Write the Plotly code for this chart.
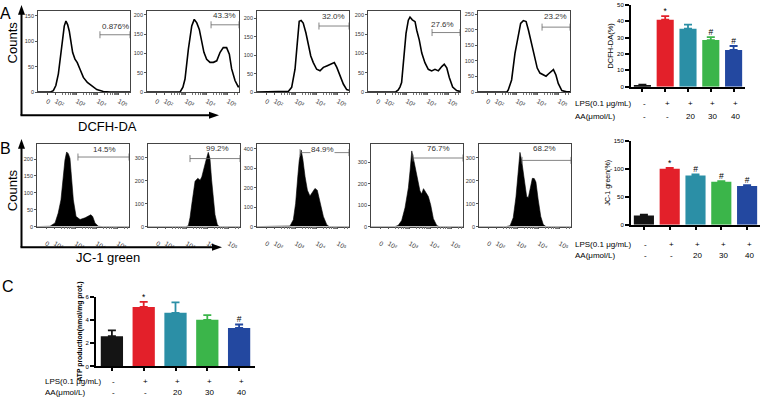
import numpy as np
import plotly.graph_objects as go

W, H = 763, 400
def fx(px): return px / W
def fy(py): return 1 - py / H

# ---------------- DATA ----------------
# Flow cytometry histograms (x: log10 display units, y: counts)
a1_x = [1.15, 1.72, 1.88, 2.0, 2.12, 2.23, 2.33, 2.4, 2.48, 2.56, 2.64, 2.72, 2.8, 2.91, 3.02, 3.15, 3.31, 3.5, 3.71, 3.95, 4.26, 4.58, 5.53]
a1_y = [0, 0, 3, 13, 36, 78, 110, 130, 140, 133, 120, 97, 78, 65, 58, 45, 29, 19, 12, 5, 1.4, 0, 0]
a2_x = [1.15, 2.72, 2.86, 2.96, 3.12, 3.28, 3.40, 3.52, 3.64, 3.75, 3.86, 3.99, 4.15, 4.31, 4.47, 4.63, 4.78, 4.94, 5.07, 5.18, 5.34, 5.5, 5.53]
a2_y = [0, 0, 13, 34, 111, 171, 188, 179, 162, 128, 103, 85, 77, 77, 81, 103, 115, 115, 98, 60, 30, 13, 17]
a3_x = [1.15, 2.64, 2.8, 2.96, 3.07, 3.16, 3.25, 3.35, 3.48, 3.59, 3.71, 3.83, 3.99, 4.15, 4.31, 4.47, 4.71, 4.83, 4.95, 5.1, 5.26, 5.42, 5.53]
a3_y = [0, 2, 13, 62, 134, 192, 194, 187, 160, 125, 98, 80, 62, 58, 67, 71, 76, 80, 67, 45, 22, 7, 5]
a4_x = [1.15, 2.48, 2.58, 2.67, 2.75, 2.86, 2.96, 3.07, 3.15, 3.26, 3.39, 3.47, 3.59, 3.71, 3.86, 4.02, 4.18, 4.34, 4.5, 4.66, 4.78, 4.9, 5.02, 5.18, 5.37, 5.53]
a4_y = [0, 1, 5, 13, 25, 101, 152, 186, 194, 187, 182, 160, 135, 101, 76, 59, 55, 59, 55, 66, 72, 63, 38, 13, 4, 2]
a5_x = [1.15, 2.52, 2.59, 2.75, 2.91, 3.07, 3.18, 3.31, 3.44, 3.55, 3.66, 3.78, 3.86, 3.97, 4.1, 4.26, 4.39, 4.5, 4.61, 4.74, 4.86, 4.97, 5.14, 5.37, 5.53]
a5_y = [0, 0, 7, 39, 124, 189, 220, 229, 226, 199, 167, 135, 103, 77, 61, 55, 51, 58, 66, 72, 55, 28, 5, 1, 1]

b1_x = [1.15, 1.67, 1.77, 2.01, 2.16, 2.29, 2.4, 2.48, 2.56, 2.64, 2.72, 2.8, 2.88, 3.01, 3.2, 3.44, 3.59, 3.71, 3.8, 3.91, 4.07, 4.25, 5.53]
b1_y = [0, 0, 1, 11, 40, 79, 148, 197, 221, 216, 202, 148, 79, 30, 21, 26, 32, 35, 30, 11, 1, 0, 0]
b2_x = [1.15, 2.96, 3.07, 3.15, 3.23, 3.34, 3.39, 3.52, 3.63, 3.71, 3.78, 3.91, 4.02, 4.1, 4.18, 4.26, 4.34, 4.45, 4.53, 5.53]
b2_y = [0, 0, 4, 39, 94, 159, 197, 210, 202, 216, 245, 288, 323, 296, 202, 116, 52, 9, 0, 0]
b3_x = [1.15, 2.63, 2.72, 2.88, 2.99, 3.09, 3.16, 3.25, 3.33, 3.44, 3.55, 3.67, 3.8, 3.91, 4.02, 4.15, 4.31, 4.47, 4.58, 5.53]
b3_y = [0, 0, 3, 35, 120, 255, 339, 393, 348, 255, 187, 157, 179, 196, 187, 128, 52, 10, 0, 0]
b4_x = [1.15, 2.29, 2.44, 2.61, 2.77, 2.93, 3.01, 3.09, 3.16, 3.25, 3.35, 3.48, 3.56, 3.65, 3.77, 3.88, 3.99, 4.12, 4.28, 4.39, 5.53]
b4_y = [0, 0, 5, 28, 88, 181, 260, 353, 322, 276, 223, 167, 152, 177, 158, 140, 102, 37, 5, 0, 0]
b5_x = [1.15, 2.44, 2.63, 2.78, 2.91, 3.02, 3.1, 3.18, 3.29, 3.42, 3.5, 3.58, 3.69, 3.78, 3.86, 3.97, 4.09, 4.21, 4.34, 5.53]
b5_y = [0, 0, 4, 39, 129, 266, 323, 288, 216, 130, 127, 166, 210, 209, 194, 116, 44, 9, 0, 0]

a_pct = ["0.876%", "43.3%", "32.0%", "27.6%", "23.2%"]
b_pct = ["14.5%", "99.2%", "84.9%", "76.7%", "68.2%"]
a_gate_start = [4.1, 4.2, 4.1, 4.2, 4.2]
a_gate_level = [113, 174, 179, 154, 208]
b_gate_start = [3.1, 3.15, 3.2, 3.15, 3.2]
b_gate_level = [206, 296, 380, 320, 288]
a_pct_pos = [(4.82, 129), (4.86, 197), (4.77, 206), (4.72, 175), (4.82, 243)]
b_pct_pos = [(4.34, 229), (4.48, 339), (4.29, 395), (4.34, 363), (4.29, 339)]
a_ymax = [160, 210, 220, 210, 260]
b_ymax = [245, 360, 425, 386, 360]
b_dtick = [50, 100, 100, 100, 100]

hist_tickvals = [1.58, 2, 3, 4, 5]
hist_ticktext = ["0", "10²", "10³", "10⁴", "10⁵"]

# Bar charts
lps_labels = ["-", "+", "+", "+", "+"]
aa_labels = ["-", "-", "20", "30", "40"]
bar_colors = ["#141414", "#e3202a", "#2b8fa6", "#3bb54a", "#2348a0"]
dcfh_mean = [0.8, 41, 35.5, 28.5, 22.5]
dcfh_err = [0.4, 2.2, 2.5, 1.8, 2.4]
dcfh_sig = ["", "*", "", "#", "#"]
jc1_mean = [16.5, 100, 88, 77, 69]
jc1_err = [1.5, 1.5, 2, 1, 1.5]
jc1_sig = ["", "*", "#", "#", "#"]
atp_mean = [2.6, 5.1, 4.6, 4.0, 3.3]
atp_err = [0.5, 0.45, 0.9, 0.4, 0.3]
atp_sig = ["", "*", "", "", "#"]

# ---------------- FIGURE ----------------
FONT = "Arial, Liberation Sans, sans-serif"
fig = go.Figure()
layout = dict(width=W, height=H, margin=dict(l=0, r=0, t=0, b=0),
              paper_bgcolor="white", plot_bgcolor="white", showlegend=False,
              barmode="overlay", font=dict(family=FONT, color="black"))
shapes, annotations = [], []

def xname(n): return "x" if n == 1 else f"x{n}"
def yname(n): return "y" if n == 1 else f"y{n}"
def xkey(n): return "xaxis" if n == 1 else f"xaxis{n}"
def ykey(n): return "yaxis" if n == 1 else f"yaxis{n}"

minor_vals = [float(np.log10(k * 10 ** d)) for d in range(2, 6) for k in range(2, 10) if np.log10(k * 10 ** d) < 5.53]

A_left = [38, 147, 257, 368, 478]
B_left = [37, 148, 257, 371, 479]
hist_A = [(a1_x, a1_y), (a2_x, a2_y), (a3_x, a3_y), (a4_x, a4_y), (a5_x, a5_y)]
hist_B = [(b1_x, b1_y), (b2_x, b2_y), (b3_x, b3_y), (b4_x, b4_y), (b5_x, b5_y)]

for row in range(2):
    for i in range(5):
        n = row * 5 + i + 1
        left = A_left[i] if row == 0 else B_left[i]
        top, bot = (8, 90.5) if row == 0 else (143, 227)
        hx, hy = (hist_A if row == 0 else hist_B)[i]
        ymax = a_ymax[i] if row == 0 else b_ymax[i]
        dt = 50 if row == 0 else b_dtick[i]
        layout[xkey(n)] = dict(domain=[fx(left), fx(left + 92)], anchor=yname(n), range=[1.15, 5.53],
                               tickmode="array", tickvals=hist_tickvals, ticktext=hist_ticktext,
                               ticks="outside", ticklen=2, tickwidth=0.8, tickcolor="#555",
                               showline=True, linecolor="#444", linewidth=0.8, mirror=True,
                               showgrid=False, zeroline=False,
                               tickfont=dict(size=6.5, color="#333", family=FONT),
                               ticklabelstandoff=0 if row == 0 else 8,
                               minor=dict(tickmode="array", tickvals=minor_vals, ticks="outside",
                                          ticklen=1.5, tickcolor="#777", tickwidth=0.6))
        layout[ykey(n)] = dict(domain=[fy(bot), fy(top)], anchor=xname(n), range=[0, ymax],
                               dtick=dt, ticks="outside", ticklen=2, tickwidth=0.8, tickcolor="#555",
                               showline=True, linecolor="#444", linewidth=0.8, mirror=True,
                               showgrid=False, zeroline=False,
                               tickfont=dict(size=5.5, color="#333", family=FONT))
        if row == 0:
            fig.add_trace(go.Scatter(x=hx, y=hy, mode="lines", line=dict(color="black", width=1.6),
                                     xaxis=xname(n), yaxis=yname(n), hoverinfo="skip"))
            gs, gl, pct, pos = a_gate_start[i], a_gate_level[i], a_pct[i], a_pct_pos[i]
        else:
            fig.add_trace(go.Scatter(x=hx, y=hy, mode="lines", fill="tozeroy", fillcolor="black",
                                     line=dict(color="black", width=0.6),
                                     xaxis=xname(n), yaxis=yname(n), hoverinfo="skip"))
            gs, gl, pct, pos = b_gate_start[i], b_gate_level[i], b_pct[i], b_pct_pos[i]
        fig.add_trace(go.Scatter(x=[gs, 5.53], y=[gl, gl], mode="lines+markers",
                                 line=dict(color="#666", width=0.8),
                                 marker=dict(symbol="line-ns-open", size=5, color="#666",
                                             line=dict(color="#666", width=0.8)),
                                 cliponaxis=False, xaxis=xname(n), yaxis=yname(n), hoverinfo="skip"))
        annotations.append(dict(x=pos[0], y=pos[1], xref=xname(n), yref=yname(n), text=pct,
                                showarrow=False, font=dict(size=8, color="#333", family=FONT),
                                xanchor="center", yanchor="middle",
                                bgcolor="white" if (row == 1 and i == 2) else None,
                                borderpad=0))

# bar charts
bar_specs = [
    (11, dcfh_mean, dcfh_err, dcfh_sig, (631, 745), (2, 85), 50, 10, "DCFH-DA(%)", 7.5, 0.75, (102, 115), 573),
    (12, jc1_mean, jc1_err, jc1_sig, (631, 760), (140, 225), 150, 50, "JC-1 green(%)", 7, 0.78, (245, 256), 573),
    (13, atp_mean, atp_err, atp_sig, (96, 255), (298, 369), 6, 2, "<b>ATP production(nmol/mg prot.)</b>", 6.8, 0.7, (384, 395), 43),
]
cats = list(range(5))
for n, mean, err, sig, (xl, xr), (yt, yb), ymax, dt, title, tsize, bw, (ylps, yaa), lab_x in bar_specs:
    for c in cats:
        fig.add_trace(go.Bar(x=[c], y=[mean[c]], width=bw, marker=dict(color=bar_colors[c], line=dict(width=0)),
                             error_y=dict(type="data", symmetric=False, array=[err[c]], arrayminus=[0],
                                          color=bar_colors[c], thickness=1.8, width=4),
                             xaxis=xname(n), yaxis=yname(n), hoverinfo="skip"))
    fig.add_trace(go.Scatter(x=cats, y=[m + e for m, e in zip(mean, err)], mode="text", text=sig,
                             textposition="top center", textfont=dict(size=8.5, color="black", family=FONT),
                             cliponaxis=False, xaxis=xname(n), yaxis=yname(n), hoverinfo="skip"))
    layout[xkey(n)] = dict(domain=[fx(xl), fx(xr)], anchor=yname(n), range=[-0.5, 4.5],
                           tickmode="array", tickvals=cats, showticklabels=False,
                           ticks="outside", ticklen=3, tickwidth=1.5, tickcolor="black",
                           showline=True, linecolor="black", linewidth=2, showgrid=False, zeroline=False)
    layout[ykey(n)] = dict(domain=[fy(yb), fy(yt)], anchor=xname(n), range=[0, ymax], dtick=dt,
                           ticks="outside", ticklen=4, tickwidth=1.5, tickcolor="black",
                           showline=True, linecolor="black", linewidth=2, showgrid=False, zeroline=False,
                           tickfont=dict(size=6, family=FONT),
                           title=dict(text=title, font=dict(size=tsize, family=FONT), standoff=2))
    for c in cats:
        annotations.append(dict(x=c, y=fy(ylps), xref=xname(n), yref="paper", text=lps_labels[c],
                                showarrow=False, font=dict(size=8, family=FONT), xshift=2,
                                xanchor="center", yanchor="middle"))
        annotations.append(dict(x=c, y=fy(yaa), xref=xname(n), yref="paper", text=aa_labels[c],
                                showarrow=False, font=dict(size=8, family=FONT), xshift=2,
                                xanchor="center", yanchor="middle"))
    annotations.append(dict(x=fx(lab_x), y=fy(ylps), xref="paper", yref="paper", text="LPS(0.1 μg/mL)",
                            xanchor="left", yanchor="middle", showarrow=False, font=dict(size=8, family=FONT)))
    annotations.append(dict(x=fx(lab_x), y=fy(yaa), xref="paper", yref="paper", text="AA(μmol/L)",
                            xanchor="left", yanchor="middle", showarrow=False, font=dict(size=8, family=FONT)))

# axis arrows for flow panels
def arrow_shapes(x0, ycorner, ytip, xtip):
    s = []
    s.append(dict(type="line", xref="paper", yref="paper", x0=fx(x0), x1=fx(x0), y0=fy(ycorner), y1=fy(ytip + 8),
                  line=dict(color="black", width=2)))
    s.append(dict(type="line", xref="paper", yref="paper", x0=fx(x0 - 1), x1=fx(xtip - 8), y0=fy(ycorner), y1=fy(ycorner),
                  line=dict(color="black", width=2)))
    s.append(dict(type="path", xref="paper", yref="paper", fillcolor="black", line=dict(width=0),
                  path=f"M {fx(x0)} {fy(ytip)} L {fx(x0 - 3.5)} {fy(ytip + 10)} L {fx(x0 + 3.5)} {fy(ytip + 10)} Z"))
    s.append(dict(type="path", xref="paper", yref="paper", fillcolor="black", line=dict(width=0),
                  path=f"M {fx(xtip)} {fy(ycorner)} L {fx(xtip - 10)} {fy(ycorner - 3.5)} L {fx(xtip - 10)} {fy(ycorner + 3.5)} Z"))
    return s

shapes += arrow_shapes(21.5, 114, 2, 219)
shapes += arrow_shapes(21.5, 248, 138, 222)

texts = [("A", 6, 11, 16, 0), ("B", 6, 148, 16, 0), ("C", 8, 288, 16, 0),
         ("Counts", 12, 40, 13, -90), ("Counts", 12, 190, 13, -90),
         ("DCFH-DA", 107, 125, 13, 0), ("JC-1 green", 108, 258, 13, 0)]
for t, x, y, s, ang in texts:
    annotations.append(dict(x=fx(x), y=fy(y), xref="paper", yref="paper", text=t, showarrow=False,
                            xanchor="center", yanchor="middle",
                            textangle=ang, font=dict(size=s, family=FONT, color="black")))

layout["shapes"] = shapes
layout["annotations"] = annotations
fig.update_layout(**layout)
fig.write_html("out.html", config={"displayModeBar": False},
               post_script="document.body.style.margin='0px';document.body.style.overflow='hidden';")
